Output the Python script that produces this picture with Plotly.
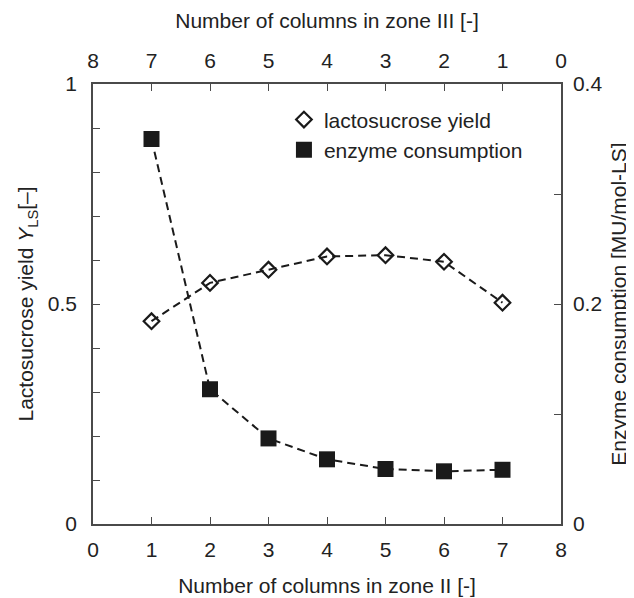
import plotly.graph_objects as go

zone2_cols = [1, 2, 3, 4, 5, 6, 7]
ls_yield = [0.461, 0.548, 0.578, 0.608, 0.611, 0.596, 0.503]
enzyme = [0.350, 0.1225, 0.0778, 0.0588, 0.050, 0.0479, 0.0493]

x_ticks = [0, 1, 2, 3, 4, 5, 6, 7, 8]
top_ticks = [8, 7, 6, 5, 4, 3, 2, 1, 0]
left_major = [0, 0.5, 1.0]
left_minor = [0.1, 0.2, 0.3, 0.4, 0.6, 0.7, 0.8, 0.9]
right_major = [0, 0.2, 0.4]
right_minor = [0.1, 0.3]

FONT = "Liberation Sans, Arial, sans-serif"
AX = "#4a4a4a"
TXT = "#222222"
DASH = "8px,5px"
FS = 21

fig = go.Figure()
fig.add_trace(go.Scatter(
    x=zone2_cols, y=ls_yield, name="lactosucrose yield", showlegend=False,
    mode="lines+markers",
    line=dict(color="#1a1a1a", width=2, dash=DASH),
    marker=dict(symbol="diamond-open", size=12, color="#1a1a1a", line=dict(width=2.2)),
    xaxis="x", yaxis="y",
))
fig.add_trace(go.Scatter(
    x=zone2_cols, y=enzyme, name="enzyme consumption", showlegend=False,
    mode="lines+markers",
    line=dict(color="#1a1a1a", width=2, dash=DASH),
    marker=dict(symbol="square", size=16, color="#1a1a1a"),
    xaxis="x", yaxis="y2",
))
# legend entries (marker only, as in the reference)
fig.add_trace(go.Scatter(
    x=[None], y=[None], name="lactosucrose yield", mode="markers",
    marker=dict(symbol="diamond-open", size=12, color="#1a1a1a", line=dict(width=2.2)),
    xaxis="x", yaxis="y",
))
fig.add_trace(go.Scatter(
    x=[None], y=[None], name="enzyme consumption", mode="markers",
    marker=dict(symbol="square", size=16, color="#1a1a1a"),
    xaxis="x", yaxis="y",
))
# invisible trace to anchor the top axis
fig.add_trace(go.Scatter(x=[8 - v for v in zone2_cols], y=ls_yield, mode="markers",
                         marker=dict(opacity=0), showlegend=False, hoverinfo="skip",
                         xaxis="x2", yaxis="y"))

common = dict(showgrid=False, zeroline=False, showline=True, linecolor=AX, linewidth=1.5,
              ticks="inside", ticklen=7, tickwidth=1.2, tickcolor=AX,
              tickfont=dict(family=FONT, size=FS, color=TXT))

def minor(vals):
    return dict(tickvals=vals, ticks="inside", ticklen=7, tickwidth=1.2, tickcolor=AX, showgrid=False)

fig.update_layout(
    width=634, height=598,
    margin=dict(l=85, r=81, t=76, b=68),
    paper_bgcolor="white", plot_bgcolor="white",
    font=dict(family=FONT, size=FS, color=TXT),
    showlegend=True,
    legend=dict(x=0.408, y=0.965, xanchor="left", yanchor="top",
                bgcolor="rgba(0,0,0,0)", font=dict(family=FONT, size=FS, color=TXT),
                itemwidth=30, tracegroupgap=0),
    xaxis=dict(range=[0, 8], tickvals=x_ticks, ticktext=[str(v) for v in x_ticks],
               ticklabelstandoff=6,
               title=dict(text="Number of columns in zone II [-]", font=dict(size=FS), standoff=18),
               **common),
    xaxis2=dict(range=[8, 0], overlaying="x", side="top", anchor="y",
                tickvals=top_ticks, ticktext=[str(v) for v in top_ticks],
                ticklabelstandoff=6,
                title=dict(text="Number of columns in zone III [-]", font=dict(size=FS), standoff=14),
                **common),
    yaxis=dict(range=[0, 1], tickvals=left_major, ticktext=["0", "0.5", "1"],
               minor=minor(left_minor), ticklabelstandoff=10,
               title=dict(text="Lactosucrose yield <i>Y</i><sub>LS</sub>[–]", font=dict(size=FS), standoff=8),
               **common),
    yaxis2=dict(range=[0, 0.4], overlaying="y", side="right", anchor="x",
                tickvals=right_major, ticktext=["0", "0.2", "0.4"],
                minor=minor(right_minor), ticklabelstandoff=6,
                title=dict(text="Enzyme consumption [MU/mol-LS]", font=dict(size=FS), standoff=10),
                **common),
)

fig.write_html("out.html")
